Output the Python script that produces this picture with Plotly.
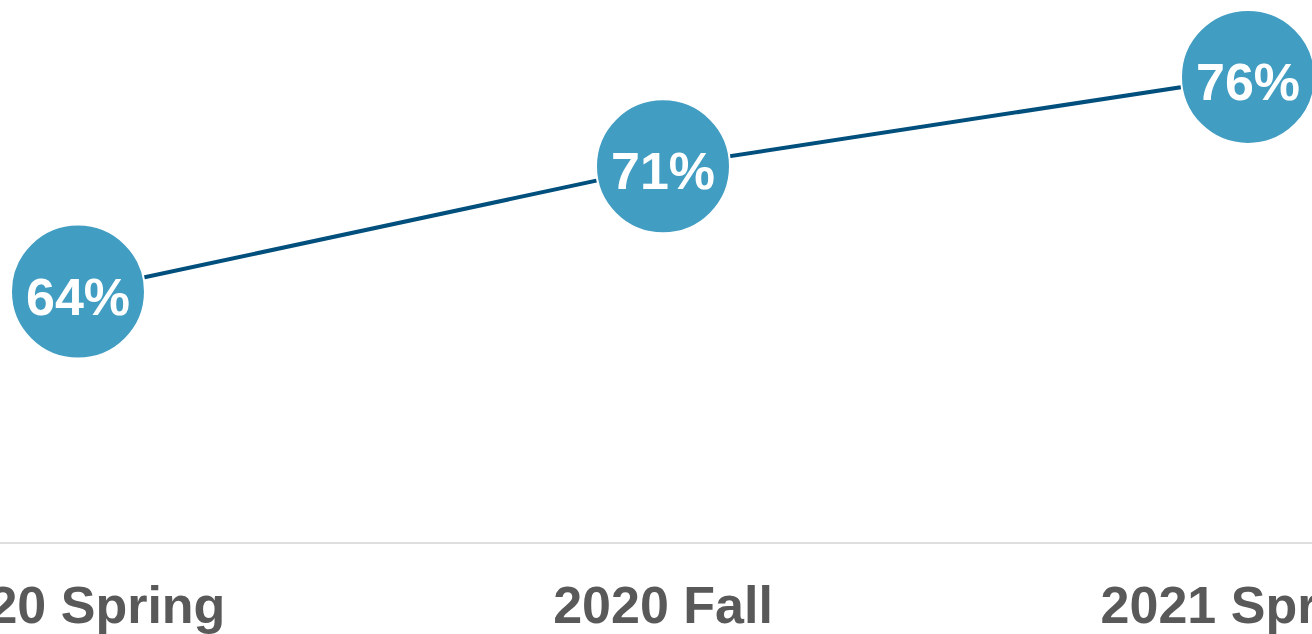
import plotly.graph_objects as go

# Share of respondents by survey term
terms = ["2020 Spring", "2020 Fall", "2021 Spring"]
values = [64, 71, 76]
labels = [f"{v}%" for v in values]

fig = go.Figure()
fig.add_trace(go.Scatter(
    x=terms,
    y=values,
    mode="lines+markers",
    line=dict(color="#004f7c", width=4),
    marker=dict(size=134, color="#419dc2", line=dict(color="white", width=2)),
    cliponaxis=False,
    hoverinfo="skip",
))

# percentage labels inside the circles
for term, val, lab in zip(terms, values, labels):
    fig.add_annotation(
        x=term, y=val, text=f"<b>{lab}</b>", showarrow=False, yshift=-5,
        font=dict(family="Liberation Sans, Arial, sans-serif", size=52, color="white"),
    )

fig.update_layout(
    width=1312,
    height=634,
    margin=dict(l=0, r=0, t=0, b=92),
    plot_bgcolor="white",
    paper_bgcolor="white",
    showlegend=False,
    xaxis=dict(
        range=[-0.1333, 2.1094],
        automargin=False,
        showgrid=False,
        zeroline=False,
        showline=True,
        linecolor="#dedede",
        linewidth=2,
        ticks="",
        ticklabelstandoff=17,
        tickfont=dict(family="Liberation Sans, Arial, sans-serif", size=52, color="#595959", weight="bold"),
    ),
    yaxis=dict(
        range=[50, 80.3],
        visible=False,
        automargin=False,
    ),
)

# drop the default 8px body margin so the figure sits at the page corner
fig.write_html("out.html", config={"displayModeBar": False},
               post_script="document.body.style.margin='0';")
